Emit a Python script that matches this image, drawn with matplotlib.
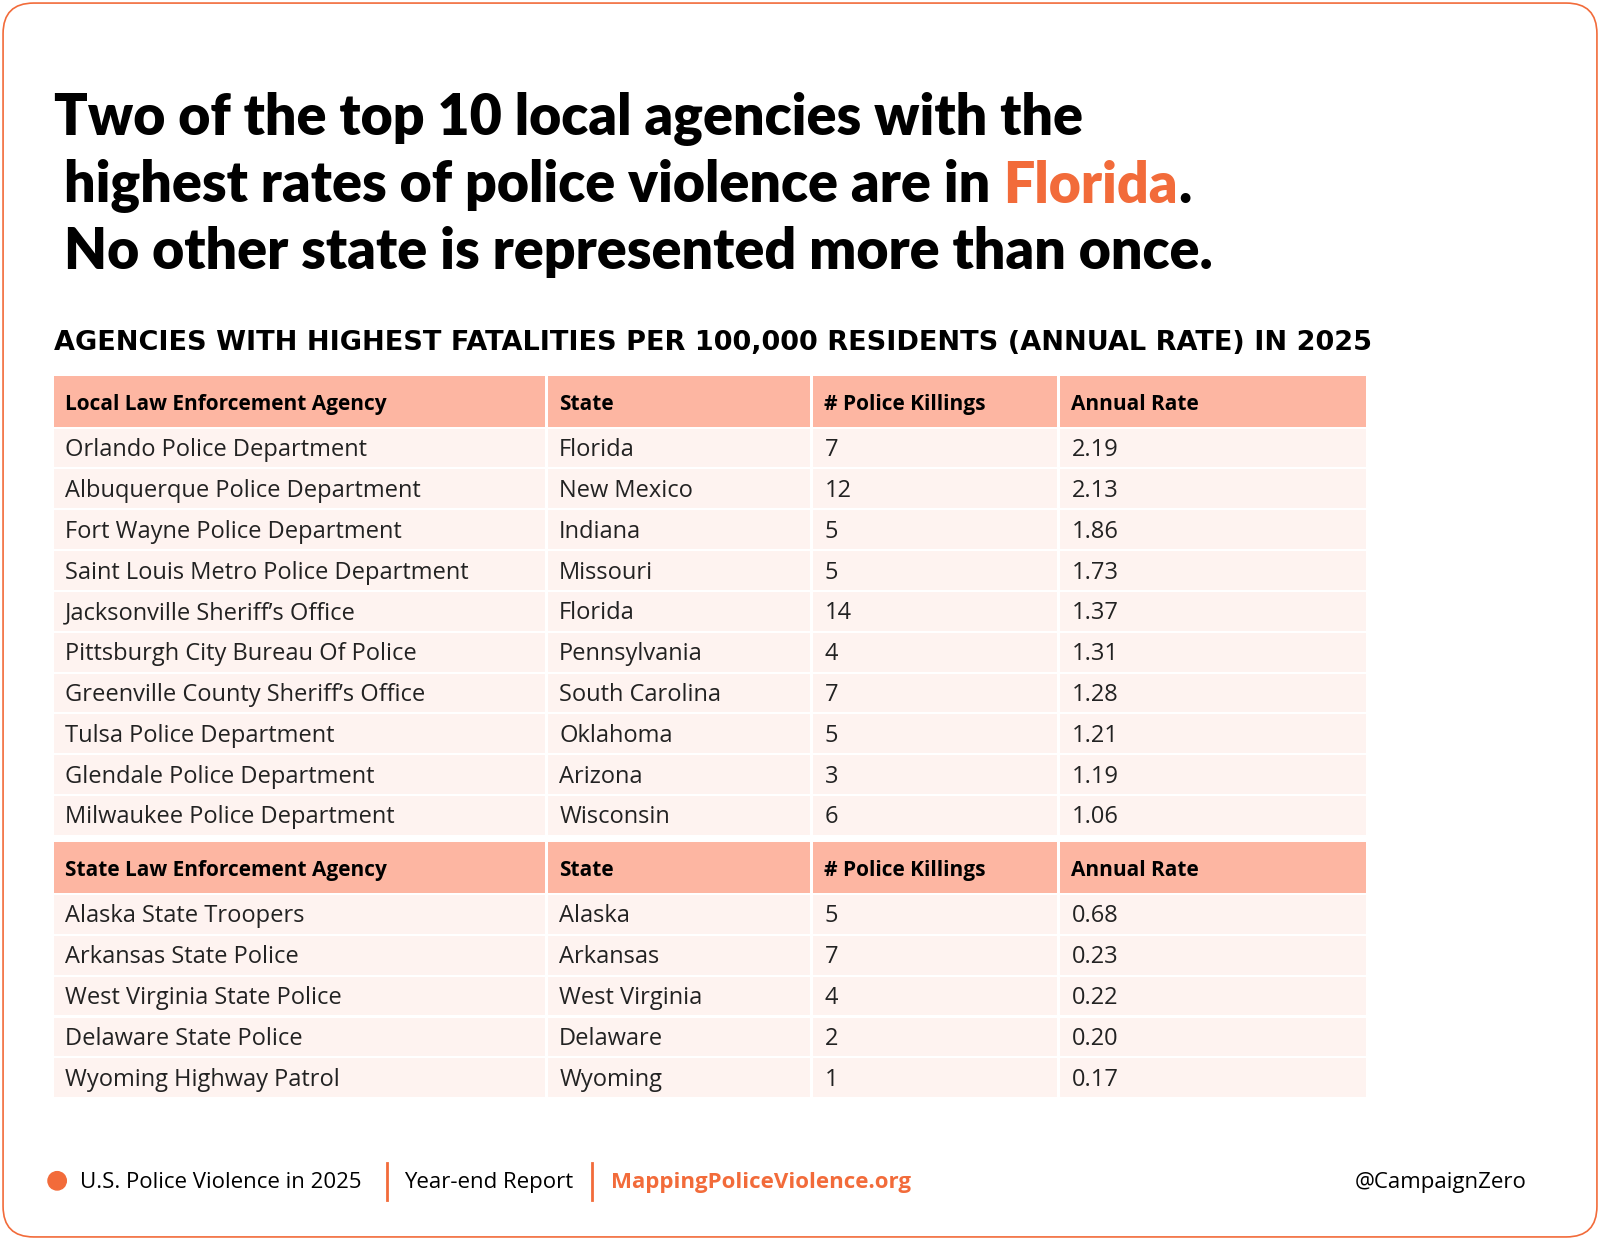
import matplotlib.pyplot as plt
from matplotlib.patches import FancyBboxPatch, Rectangle, Circle

# Table data
local_rows = [
    ('Orlando Police Department', 'Florida', '7', '2.19'),
    ('Albuquerque Police Department', 'New Mexico', '12', '2.13'),
    ('Fort Wayne Police Department', 'Indiana', '5', '1.86'),
    ('Saint Louis Metro Police Department', 'Missouri', '5', '1.73'),
    ("Jacksonville Sheriff\u2019s Office", 'Florida', '14', '1.37'),
    ('Pittsburgh City Bureau Of Police', 'Pennsylvania', '4', '1.31'),
    ("Greenville County Sheriff\u2019s Office", 'South Carolina', '7', '1.28'),
    ('Tulsa Police Department', 'Oklahoma', '5', '1.21'),
    ('Glendale Police Department', 'Arizona', '3', '1.19'),
    ('Milwaukee Police Department', 'Wisconsin', '6', '1.06'),
]
state_rows = [
    ('Alaska State Troopers', 'Alaska', '5', '0.68'),
    ('Arkansas State Police', 'Arkansas', '7', '0.23'),
    ('West Virginia State Police', 'West Virginia', '4', '0.22'),
    ('Delaware State Police', 'Delaware', '2', '0.20'),
    ('Wyoming Highway Patrol', 'Wyoming', '1', '0.17'),
]
col_edges = [53, 537, 797, 1039, 1342]
orange = '#F26B3A'
header_color = '#FDB6A2'
row_color = '#FEF3F0'
title_font = 'Lato'
body_font = 'Open Sans'

fig = plt.figure(figsize=(16, 12.4), dpi=100)
ax = fig.add_axes([0, 0, 1, 1])
ax.set_xlim(0, 1568)
ax.set_ylim(1215, 0)
ax.axis('off')

ax.add_patch(FancyBboxPatch((3, 3), 1562, 1209, boxstyle='round,pad=0,rounding_size=30',
                            facecolor='white', edgecolor=orange, linewidth=1.2))

# Title
ax.text(53, 117, 'Two of the top 10 local agencies with the', fontsize=40, fontweight='heavy',
        family=title_font, va='center', ha='left')
t = ax.text(63, 182, 'highest rates of police violence are in ', fontsize=40, fontweight='heavy',
            family=title_font, va='center', ha='left')
fig.canvas.draw()
bb = t.get_window_extent().transformed(ax.transData.inverted())
t2 = ax.text(bb.x1, 182, 'Florida', fontsize=40, fontweight='heavy', color=orange,
             family=title_font, va='center', ha='left')
fig.canvas.draw()
bb2 = t2.get_window_extent().transformed(ax.transData.inverted())
ax.text(bb2.x1, 182, '.', fontsize=40, fontweight='heavy', family=title_font, va='center', ha='left')
ax.text(63, 247, 'No other state is represented more than once.', fontsize=40, fontweight='heavy',
        family=title_font, va='center', ha='left')

ax.text(53, 336, 'AGENCIES WITH HIGHEST FATALITIES PER 100,000 RESIDENTS (ANNUAL RATE) IN 2025',
        fontsize=19.5, fontweight='bold', va='center', ha='left')


def draw_block(y0, header, rows):
    for i in range(4):
        ax.add_patch(Rectangle((col_edges[i], y0), col_edges[i + 1] - col_edges[i] - 3, 50,
                               facecolor=header_color, edgecolor='none'))
        ax.text(col_edges[i] + 11, y0 + 28, header[i], fontsize=15, fontweight='bold',
                family=body_font, va='center', ha='left')
    y = y0 + 52
    for row in rows:
        for i in range(4):
            ax.add_patch(Rectangle((col_edges[i], y), col_edges[i + 1] - col_edges[i] - 3, 38,
                                   facecolor=row_color, edgecolor='none'))
            ax.text(col_edges[i] + 11, y + 21, row[i], fontsize=17, va='center', ha='left',
                    family=body_font, color='#222222')
        y += 40


draw_block(368, ['Local Law Enforcement Agency', 'State', '# Police Killings', 'Annual Rate'],
           local_rows)
draw_block(825, ['State Law Enforcement Agency', 'State', '# Police Killings', 'Annual Rate'],
           state_rows)

# Footer
ax.add_patch(Circle((56, 1157), 9, color=orange))
ax.text(78, 1159, 'U.S. Police Violence in 2025', fontsize=16, family=body_font, va='center', ha='left')
ax.plot([379, 379], [1140, 1176], color=orange, linewidth=2)
ax.text(396, 1159, 'Year-end Report', fontsize=16, family=body_font, va='center', ha='left')
ax.plot([580, 580], [1140, 1176], color=orange, linewidth=2)
ax.text(599, 1159, 'MappingPoliceViolence.org', fontsize=16, fontweight='bold', color=orange,
        family=body_font, va='center', ha='left')
ax.text(1496, 1159, '@CampaignZero', fontsize=16, family=body_font, va='center', ha='right')

fig.savefig('out.png', dpi=100)
